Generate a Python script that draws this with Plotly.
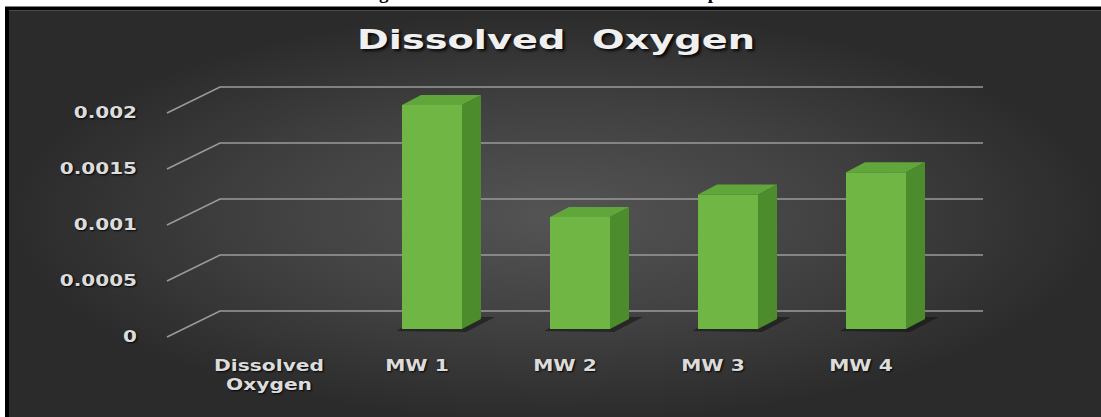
import plotly.graph_objects as go

# ---------------- data ----------------
categories = ["Dissolved Oxygen", "MW 1", "MW 2", "MW 3", "MW 4"]
category_labels = ["Dissolved<br>Oxygen", "MW 1", "MW 2", "MW 3", "MW 4"]
values = [None, 0.002, 0.001, 0.0012, 0.0014]
y_ticks = [0, 0.0005, 0.001, 0.0015, 0.002]
y_tick_text = ["0", "0.0005", "0.001", "0.0015", "0.002"]
title_text = "Dissolved\u00a0 Oxygen"
caption_text = "Figure 4.3: Overall variation of all the samples"

# ---------------- geometry (pixels) ----------------
W, H = 1101, 417
PL, PR, PT, PB = 150, 1000, 70, 345          # main plot area
X0PX, XSTEP = 284, 148                        # pixel of category 0, spacing
Y0PX, YSCALE = 329, 112000.0                  # pixel of value 0, px per unit


def ux(p):
    return p / XSTEP


def uy(p):
    return p / YSCALE


xrange2 = [(PL - X0PX) / XSTEP, (PR - X0PX) / XSTEP]
yrange2 = [(Y0PX - PB) / YSCALE, (Y0PX - PT) / YSCALE]

BW = ux(60)        # front face width
DX, DY = ux(19), uy(10)   # depth offset

FRONT = "#6fb645"
SIDE = "#4c8c2c"
TOP = "#61a63b"

fig = go.Figure()

# background with radial gradient (decoration, pixel axes)
fig.add_trace(go.Scatter(
    x=[9, W + 5, W + 5, 9, 9], y=[10.5, 10.5, H + 5, H + 5, 10.5],
    xaxis="x", yaxis="y", mode="lines", line=dict(width=0),
    fill="toself",
    fillgradient=dict(type="radial",
                      colorscale=[[0, "#545454"], [0.55, "#404040"], [1, "#2b2b2b"]]),
    hoverinfo="skip", showlegend=False))

# front faces (bars)
xs = list(range(len(categories)))
fig.add_trace(go.Bar(
    x=xs, y=values, width=BW, marker=dict(color=FRONT, line=dict(width=0)),
    xaxis="x2", yaxis="y2", hoverinfo="skip", showlegend=False))

# side and top faces
sx, sy, tx, ty = [], [], [], []
for i, v in zip(xs, values):
    if v is None:
        continue
    xl, xr = i - BW / 2, i + BW / 2
    sx += [xr, xr + DX, xr + DX, xr, xr, None]
    sy += [0, DY, v + DY, v, 0, None]
    tx += [xl, xr, xr + DX, xl + DX, xl, None]
    ty += [v, v, v + DY, v + DY, v, None]
fig.add_trace(go.Scatter(x=sx, y=sy, xaxis="x2", yaxis="y2", mode="lines",
                         line=dict(width=0), fill="toself", fillcolor=SIDE,
                         hoverinfo="skip", showlegend=False))
fig.add_trace(go.Scatter(x=tx, y=ty, xaxis="x2", yaxis="y2", mode="lines",
                         line=dict(width=0), fill="toself", fillcolor=TOP,
                         hoverinfo="skip", showlegend=False))

shapes = []
# back-wall gridlines with perspective side segment
x_front = (167 - X0PX) / XSTEP
x_wall = (220 - X0PX) / XSTEP
x_end = (983 - X0PX) / XSTEP
for t in y_ticks:
    path = "M {:.5f},{:.8f} L {:.5f},{:.8f} L {:.5f},{:.8f}".format(
        x_front, t - uy(8), x_wall, t + uy(18), x_end, t + uy(18))
    shapes.append(dict(type="path", path=path, xref="x2", yref="y2", layer="below",
                       line=dict(color="#9a9a9a", width=1.6)))
# base shadows
for i, v in zip(xs, values):
    if v is None:
        continue
    xl, xr = i - BW / 2, i + BW / 2
    path = "M {:.5f},{:.8f} L {:.5f},{:.8f} L {:.5f},{:.8f} L {:.5f},{:.8f} Z".format(
        xl - ux(6), -uy(2), xr + ux(4), -uy(3), xr + DX + ux(14), DY + uy(2), xl + DX, DY + uy(2))
    shapes.append(dict(type="path", path=path, xref="x2", yref="y2", layer="below",
                       fillcolor="rgba(18,18,18,0.55)", line=dict(width=0)))
# outer black frame
shapes.append(dict(type="rect", xref="x", yref="y", x0=7, y0=8.5, x1=W + 20, y1=H + 20,
                   line=dict(color="black", width=4), layer="above"))

label_font = dict(family="DejaVu Sans", size=15, color="#dcdcdc", weight="bold",
                  shadow="1px 1px 2px rgba(0,0,0,0.9)")

fig.update_layout(
    width=W, height=H, margin=dict(l=0, r=0, t=0, b=0, pad=0),
    paper_bgcolor="white", plot_bgcolor="rgba(0,0,0,0)", showlegend=False,
    xaxis=dict(domain=[0, 1], range=[0, W], visible=False, fixedrange=True),
    yaxis=dict(domain=[0, 1], range=[H, 0], visible=False, fixedrange=True),
    xaxis2=dict(domain=[PL / W, PR / W], range=xrange2, anchor="y2",
                showgrid=False, zeroline=False, showline=False, ticks="",
                tickvals=xs, ticktext=category_labels, ticklabelshift=-15,
                ticklabelstandoff=10, tickfont=label_font, fixedrange=True),
    yaxis2=dict(domain=[1 - PB / H, 1 - PT / H], range=yrange2, anchor="x2",
                showgrid=False, zeroline=False, showline=False, ticks="",
                tickvals=[t - uy(7.5) for t in y_ticks], ticktext=y_tick_text,
                ticklabelstandoff=12, tickfont=dict(label_font, size=16), fixedrange=True),
    title=dict(text=title_text, x=556 / W, xanchor="center", xref="paper",
               y=1 - 40 / H, yanchor="middle", yref="paper",
               font=dict(family="DejaVu Sans", size=27, color="#f0f0f0", weight="bold",
                         shadow="2px 2px 3px rgba(0,0,0,0.85)")),
    shapes=shapes,
    annotations=[dict(text=caption_text, xref="x", yref="y", x=551, y=5,
                      xanchor="center", yanchor="bottom", showarrow=False,
                      font=dict(family="Liberation Serif", size=19, color="black",
                                weight="bold"))],
)

post_js = """
function sxs(sel, k, mode){
  document.querySelectorAll(sel).forEach(function(t){
    var b = t.getBBox();
    var cx = mode === 'right' ? b.x + b.width : b.x + b.width / 2;
    var tr = t.getAttribute('transform') || '';
    t.setAttribute('transform', tr + ' translate(' + cx + ',0) scale(' + k + ',1) translate(' + (-cx) + ',0)');
  });
}
sxs('.gtitle', 1.42, 'center');
sxs('.x2tick text', 1.35, 'center');
sxs('.y2tick text', 1.25, 'right');
"""

fig.write_html("out.html", post_script=post_js, config={"displayModeBar": False})
